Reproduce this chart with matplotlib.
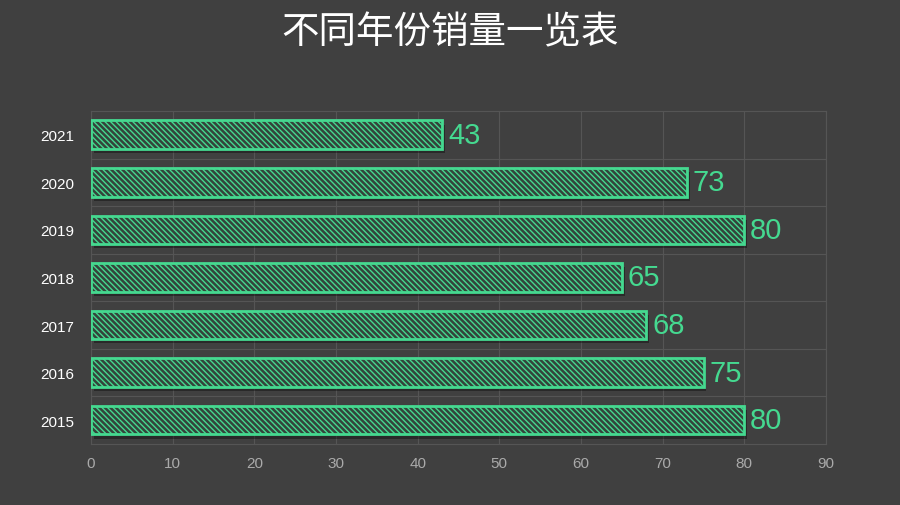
import matplotlib.pyplot as plt
import matplotlib.transforms as mtransforms

plt.rcParams['font.family'] = ['Liberation Sans', 'Noto Sans CJK SC', 'DejaVu Sans']
plt.rcParams['hatch.linewidth'] = 1.0

years = ['2015', '2016', '2017', '2018', '2019', '2020', '2021']
sales = [80, 75, 68, 65, 80, 73, 43]
xticks = [0, 10, 20, 30, 40, 50, 60, 70, 80, 90]

bg = '#404040'
green = '#45d990'

fig = plt.figure(figsize=(9, 5.06), dpi=100, facecolor=bg)
ax = fig.add_axes([0.1011, 0.1206, 0.8167, 0.6581], facecolor=bg)

pos = list(range(len(years)))

# soft shadow under each bar
shadow = mtransforms.ScaledTranslation(2 / 72, -3 / 72, fig.dpi_scale_trans)
ax.barh(pos, sales, height=0.6, color='black', alpha=0.35, linewidth=0,
        transform=ax.transData + shadow, zorder=2)

ax.barh(pos, sales, height=0.6, color='#34443b', edgecolor=green,
        linewidth=2, hatch='\\\\\\\\\\\\', zorder=3)

for p, v in zip(pos, sales):
    ax.text(v + 0.7, p, str(v), color=green, fontsize=21,
            va='center', ha='left', zorder=4)

ax.set_xlim(0, 90)
ax.set_ylim(-0.5, len(years) - 0.5)
ax.set_xticks(xticks)
ax.set_yticks(pos)
ax.set_yticklabels(years)
ax.tick_params(axis='y', colors='white', labelsize=11, length=0, pad=12)
ax.tick_params(axis='x', colors='#aaaaaa', labelsize=11, length=0, pad=9)

# vertical grid at ticks, horizontal grid between categories
ax.set_yticks([i + 0.5 for i in pos[:-1]], minor=True)
ax.grid(axis='x', color='#555555', linewidth=0.8, zorder=0)
ax.grid(axis='y', which='minor', color='#555555', linewidth=0.8, zorder=0)
ax.tick_params(axis='y', which='minor', length=0)
for s in ax.spines.values():
    s.set_color('#555555')
    s.set_linewidth(0.8)

fig.text(0.5, 0.935, '不同年份销量一览表', color='white', fontsize=27,
         ha='center', va='center', family=['Noto Sans CJK SC', 'DejaVu Sans'])

fig.savefig('out.png', facecolor=bg)
